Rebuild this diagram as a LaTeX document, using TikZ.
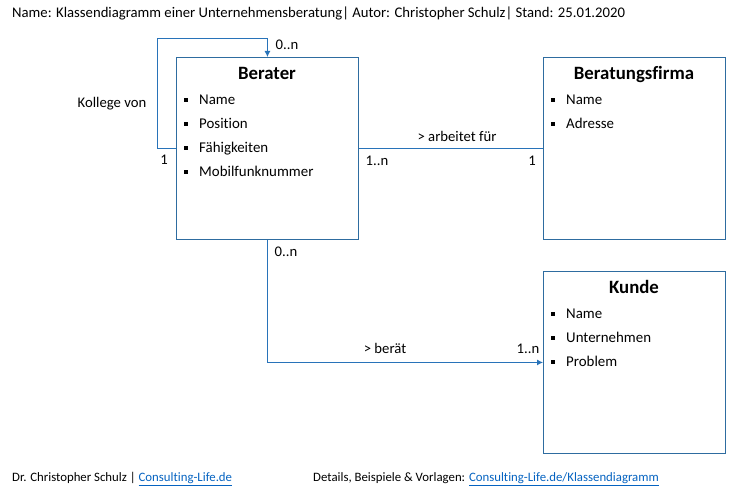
\documentclass[tikz,border=0pt]{standalone}
\usepackage{fontspec}
\setmainfont{Carlito}[Ligatures=NoCommon]
\usetikzlibrary{arrows.meta}
\definecolor{boxblue}{RGB}{46,108,160}
\definecolor{lineblue}{RGB}{40,115,185}
\definecolor{linkblue}{RGB}{5,99,193}
\tikzset{
  classbox/.style={draw=boxblue, line width=0.9pt, minimum width=182pt, minimum height=182pt, anchor=north west, inner sep=0pt},
  classtitle/.style={font=\fontsize{18.8}{22}\selectfont\bfseries, anchor=base, inner sep=0pt},
  attr/.style={font=\fontsize{14.9}{17}\selectfont, anchor=base west, inner sep=0pt},
  lbl/.style={font=\fontsize{14.7}{17}\selectfont, inner sep=0pt, anchor=base},
  conn/.style={draw=lineblue, line width=0.9pt},
  tip/.style={-{Latex[length=6pt,width=6pt]}},
  bullet/.style={fill=black, minimum size=4.2pt, inner sep=0pt},
  smalltxt/.style={font=\fontsize{12.8}{15}\selectfont, anchor=base west, inner sep=0pt}
}
\newcommand{\lnk}[1]{\textcolor{linkblue}{\underline{#1}}}
\begin{document}
\begin{tikzpicture}[x=1pt,y=-1pt]
\useasboundingbox (0,0) rectangle (740,489);
\fill[white] (0,0) rectangle (740,489);
% header
\node[lbl, anchor=base west] (header) at (12,18) {Name: Klassendiagramm einer Unternehmensberatung| Autor: Christopher Schulz| Stand: 25.01.2020};
% boxes
\node[classbox] (berater) at (176,57) {};
\node[classbox] (firma) at (543,57) {};
\node[classbox] (kunde) at (543,271) {};
% titles
\node[classtitle] (tberater) at (267,79.5) {Berater};
\node[classtitle] (tfirma) at (634,79.5) {Beratungsfirma};
\node[classtitle] (tkunde) at (634,293.5) {Kunde};
% attributes
\foreach \t [count=\i] in {Name,Position,Fähigkeiten,Mobilfunknummer}{
  \node[bullet] (bb\i) at (186,{76+24*\i}) {};
  \node[attr] (ab\i) at (199,{81+24*\i}) {\t};
}
\foreach \t [count=\i] in {Name,Adresse}{
  \node[bullet] (bf\i) at (553,{76+24*\i}) {};
  \node[attr] (af\i) at (566,{81+24*\i}) {\t};
}
\foreach \t [count=\i] in {Name,Unternehmen,Problem}{
  \node[bullet] (bk\i) at (553,{290+24*\i}) {};
  \node[attr] (ak\i) at (566,{295+24*\i}) {\t};
}
% self association
\coordinate (loopA) at (157,38);
\draw[conn,tip] (berater.west) -| (loopA) -| (berater.north);
\node[lbl] (loopmult) at (287,50) {0..n};
\node[lbl] (looplbl) at (112,108) {Kollege von};
\node[lbl] (loopone) at (164,165) {1};
% arbeitet fuer
\draw[conn] (berater.east) -- (firma.west);
\node[lbl] (arblbl) at (457,142) {> arbeitet für};
\node[lbl] (arbmulta) at (377,166) {1..n};
\node[lbl] (arbmultb) at (532,166) {1};
% beraet
\draw[conn,tip] (berater.south) |- (kunde.west);
\node[lbl] (bermulta) at (286,257) {0..n};
\node[lbl] (berlbl) at (385,354) {> berät};
\node[lbl] (bermultb) at (528,354) {1..n};
% footer
\node[smalltxt] (foot1) at (12,481.5) {Dr. Christopher Schulz | \lnk{Consulting-Life.de}};
\node[smalltxt] (foot2) at (313,481.5) {Details, Beispiele \& Vorlagen: \lnk{Consulting-Life.de/Klassendiagramm}};
\end{tikzpicture}
\end{document}
